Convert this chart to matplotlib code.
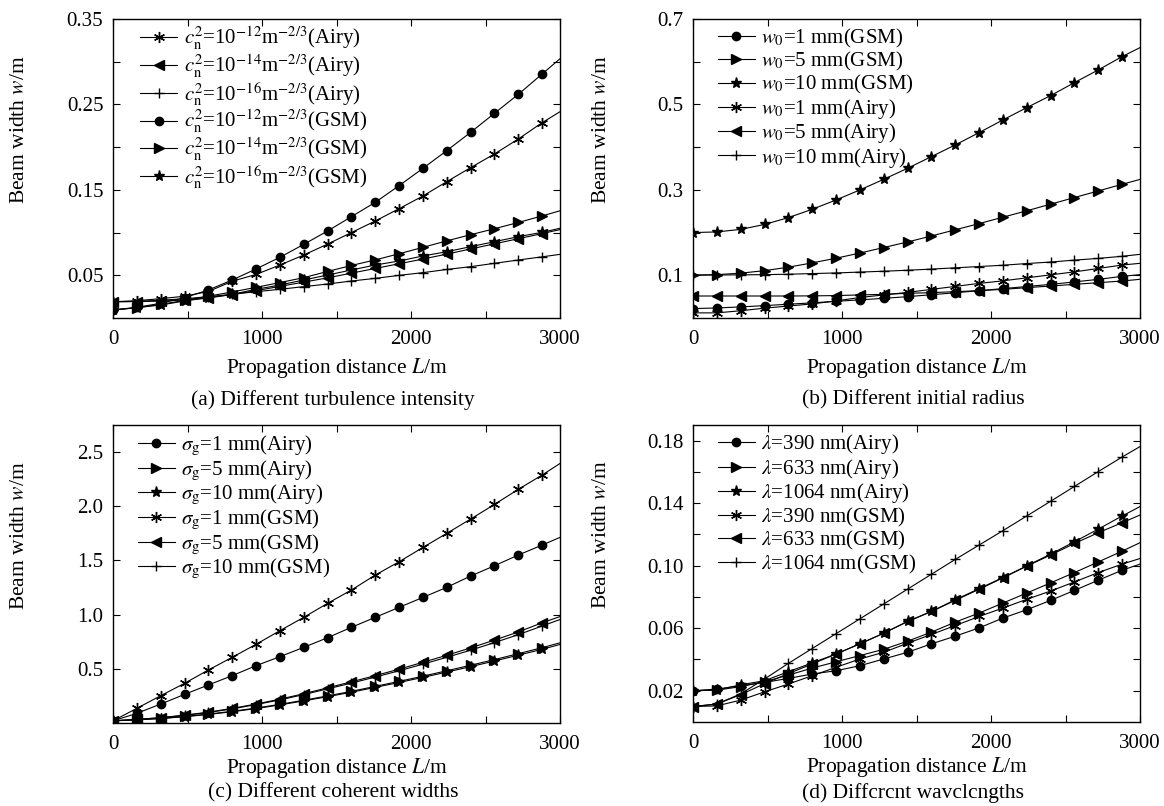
import matplotlib
matplotlib.use('Agg')
import matplotlib.pyplot as plt

plt.rcParams['font.family'] = ['Liberation Serif', 'DejaVu Serif']
plt.rcParams['mathtext.fontset'] = 'stix'

# ---------------- data ----------------
L = [0, 160, 320, 480, 640, 800, 960, 1120, 1280, 1440, 1600, 1760, 1920,
     2080, 2240, 2400, 2560, 2720, 2880, 3000]

# (a) different turbulence intensity
a_airy_12 = [0.019, 0.0203, 0.0226, 0.0255, 0.031, 0.043, 0.051, 0.062, 0.0737, 0.0865,
             0.1000, 0.1135, 0.128, 0.1428, 0.1596, 0.176, 0.192, 0.2095, 0.2286, 0.2415]
a_airy_14 = [0.019, 0.0192, 0.0198, 0.021, 0.0235, 0.0275, 0.032, 0.037, 0.042, 0.047,
             0.0525, 0.058, 0.0635, 0.069, 0.0748, 0.0808, 0.0868, 0.0928, 0.0988, 0.1035]
a_airy_16 = [0.019, 0.0195, 0.0208, 0.0225, 0.025, 0.0277, 0.0308, 0.0336, 0.0367, 0.0398,
             0.0433, 0.0464, 0.0499, 0.0531, 0.0568, 0.0601, 0.064, 0.0679, 0.0716, 0.0745]
a_gsm_12 = [0.0094, 0.0125, 0.0172, 0.0238, 0.0328, 0.0445, 0.0574, 0.071, 0.0862, 0.1018,
            0.1186, 0.1354, 0.1549, 0.1752, 0.1959, 0.2173, 0.2396, 0.2618, 0.2856, 0.3035]
a_gsm_14 = [0.0094, 0.012, 0.016, 0.0205, 0.0255, 0.0305, 0.0359, 0.0415, 0.0472, 0.0545,
            0.0615, 0.068, 0.0752, 0.0827, 0.0903, 0.0975, 0.1045, 0.1118, 0.1195, 0.1255]
a_gsm_16 = [0.0094, 0.0121, 0.0152, 0.0199, 0.0238, 0.0277, 0.0336, 0.0386, 0.0445, 0.0503,
            0.0562, 0.062, 0.0667, 0.0726, 0.0776, 0.0835, 0.0893, 0.0952, 0.1003, 0.105]

# (b) different initial radius
b_gsm_1 = [0.022, 0.0235, 0.026, 0.029, 0.0322, 0.0355, 0.039, 0.0425, 0.046, 0.05,
           0.0545, 0.059, 0.064, 0.0688, 0.0737, 0.0787, 0.0845, 0.0905, 0.0975, 0.1015]
b_gsm_5 = [0.100, 0.1015, 0.105, 0.1108, 0.119, 0.129, 0.14, 0.152, 0.165, 0.178,
           0.192, 0.2065, 0.221, 0.236, 0.251, 0.2665, 0.282, 0.2975, 0.313, 0.3245]
b_gsm_10 = [0.2, 0.2015, 0.2075, 0.219, 0.235, 0.2545, 0.2763, 0.2998, 0.3247, 0.3505,
            0.3778, 0.4052, 0.434, 0.4637, 0.4926, 0.5207, 0.5511, 0.5808, 0.612, 0.633]
b_airy_1 = [0.012, 0.012, 0.017, 0.023, 0.028, 0.033, 0.040, 0.048, 0.054, 0.060,
            0.067, 0.074, 0.081, 0.087, 0.094, 0.101, 0.108, 0.116, 0.124, 0.128]
b_airy_5 = [0.0515, 0.0515, 0.0515, 0.0515, 0.0515, 0.0518, 0.0525, 0.054, 0.0554, 0.0578,
            0.0593, 0.0617, 0.064, 0.0671, 0.071, 0.0749, 0.0788, 0.0827, 0.0866, 0.0906]
b_airy_10 = [0.1007, 0.1007, 0.101, 0.1015, 0.1025, 0.104, 0.1055, 0.1075, 0.1095, 0.1118,
             0.1145, 0.1175, 0.1205, 0.1235, 0.1275, 0.131, 0.1355, 0.1395, 0.1445, 0.149]

# (c) different coherent widths
c_airy_1 = [0.02, 0.089, 0.175, 0.264, 0.351, 0.437, 0.529, 0.612, 0.698, 0.787,
            0.883, 0.975, 1.067, 1.159, 1.252, 1.356, 1.451, 1.55, 1.642, 1.713]
c_airy_5 = [0.02, 0.03, 0.042, 0.06, 0.082, 0.108, 0.138, 0.172, 0.21, 0.25,
            0.292, 0.338, 0.384, 0.432, 0.482, 0.533, 0.585, 0.64, 0.695, 0.74]
c_airy_10 = [0.02, 0.029, 0.041, 0.058, 0.079, 0.104, 0.133, 0.167, 0.204, 0.243,
             0.284, 0.329, 0.374, 0.421, 0.47, 0.52, 0.572, 0.626, 0.68, 0.725]
c_gsm_1 = [0.02, 0.135, 0.252, 0.366, 0.489, 0.606, 0.726, 0.852, 0.975, 1.104,
           1.227, 1.365, 1.488, 1.62, 1.75, 1.882, 2.017, 2.156, 2.288, 2.395]
c_gsm_5 = [0.02, 0.033, 0.05, 0.072, 0.1, 0.135, 0.175, 0.22, 0.27, 0.325,
           0.38, 0.437, 0.497, 0.56, 0.625, 0.693, 0.765, 0.84, 0.925, 0.982]
c_gsm_10 = [0.02, 0.032, 0.048, 0.07, 0.097, 0.13, 0.17, 0.213, 0.262, 0.315,
            0.368, 0.424, 0.482, 0.543, 0.606, 0.672, 0.742, 0.815, 0.895, 0.955]

# (d) different wavelengths
d_airy_390 = [0.02, 0.0211, 0.0232, 0.0253, 0.0279, 0.0307, 0.0328, 0.036, 0.0403, 0.0446,
              0.05, 0.0549, 0.0602, 0.0665, 0.0718, 0.0778, 0.0842, 0.0907, 0.0971, 0.101]
d_airy_633 = [0.02, 0.0204, 0.0226, 0.0258, 0.03, 0.0345, 0.0385, 0.0425, 0.0465, 0.0517,
              0.0575, 0.0639, 0.0697, 0.0761, 0.0825, 0.089, 0.0956, 0.1024, 0.1093, 0.1147]
d_airy_1064 = [0.02, 0.0204, 0.0238, 0.0264, 0.0322, 0.0378, 0.0435, 0.05, 0.0568, 0.0643,
               0.0707, 0.0782, 0.0853, 0.0924, 0.0999, 0.1074, 0.1153, 0.1234, 0.1318, 0.1378]
d_gsm_390 = [0.0099, 0.0103, 0.014, 0.0193, 0.0243, 0.0296, 0.035, 0.0403, 0.0446, 0.0504,
             0.056, 0.0617, 0.0675, 0.0729, 0.0785, 0.0838, 0.0896, 0.0956, 0.101, 0.1046]
d_gsm_633 = [0.0099, 0.0115, 0.0175, 0.0245, 0.031, 0.0371, 0.0435, 0.05, 0.0568, 0.0643,
             0.0707, 0.0778, 0.0849, 0.0922, 0.0997, 0.1068, 0.1142, 0.1211, 0.1275, 0.1324]
d_gsm_1064 = [0.0099, 0.0115, 0.018, 0.0275, 0.0375, 0.047, 0.0565, 0.066, 0.0755, 0.085,
              0.0945, 0.104, 0.1132, 0.1224, 0.1318, 0.1412, 0.1507, 0.1602, 0.1695, 0.1762]

x_ticks = [0, 500, 1000, 1500, 2000, 2500, 3000]
x_ticklabels = ['0', '', '1000', '', '2000', '', '3000']

a_labels = [r'$c_{\mathrm{n}}^{2}$=10$^{-12}$m$^{-2/3}$(Airy)',
            r'$c_{\mathrm{n}}^{2}$=10$^{-14}$m$^{-2/3}$(Airy)',
            r'$c_{\mathrm{n}}^{2}$=10$^{-16}$m$^{-2/3}$(Airy)',
            r'$c_{\mathrm{n}}^{2}$=10$^{-12}$m$^{-2/3}$(GSM)',
            r'$c_{\mathrm{n}}^{2}$=10$^{-14}$m$^{-2/3}$(GSM)',
            r'$c_{\mathrm{n}}^{2}$=10$^{-16}$m$^{-2/3}$(GSM)']
b_labels = [r'$w_0$=1 mm(GSM)', r'$w_0$=5 mm(GSM)', r'$w_0$=10 mm(GSM)',
            r'$w_0$=1 mm(Airy)', r'$w_0$=5 mm(Airy)', r'$w_0$=10 mm(Airy)']
c_labels = [r'$\sigma_{\mathrm{g}}$=1 mm(Airy)', r'$\sigma_{\mathrm{g}}$=5 mm(Airy)',
            r'$\sigma_{\mathrm{g}}$=10 mm(Airy)', r'$\sigma_{\mathrm{g}}$=1 mm(GSM)',
            r'$\sigma_{\mathrm{g}}$=5 mm(GSM)', r'$\sigma_{\mathrm{g}}$=10 mm(GSM)']
d_labels = [r'$\lambda$=390 nm(Airy)', r'$\lambda$=633 nm(Airy)', r'$\lambda$=1064 nm(Airy)',
            r'$\lambda$=390 nm(GSM)', r'$\lambda$=633 nm(GSM)', r'$\lambda$=1064 nm(GSM)']

captions = ['(a) Different turbulence intensity', '(b) Different initial radius',
            '(c) Different coherent widths', '(d) Diffcrcnt wavclcngths']

ASTER = (6, 2, 0)

# ---------------- figure ----------------
W, H = 1164, 806
fig = plt.figure(figsize=(W / 100, H / 100), dpi=100)


def add_ax(l, t, r, b):
    return fig.add_axes([l / W, 1 - b / H, (r - l) / W, (b - t) / H])


FS = 15.5
LFS = 15
TFS = 15


def style(ax, ylim, yticks, yticklabels, ylab_x, xlab_y):
    ax.set_xlim(0, 3000)
    ax.set_ylim(*ylim)
    ax.set_xticks(x_ticks)
    ax.set_xticklabels(x_ticklabels)
    ax.set_yticks(yticks)
    ax.set_yticklabels(yticklabels)
    ax.tick_params(direction='in', top=True, right=True, length=5, width=0.8,
                   labelsize=TFS)
    ax.tick_params(axis='x', pad=8.5)
    ax.tick_params(axis='y', pad=7)
    for s in ax.spines.values():
        s.set_linewidth(1.0)
    ax.set_xlabel(r'Propagation distance $L$/m', fontsize=FS)
    ax.xaxis.label.set_va('center')
    ax.xaxis.set_label_coords(0.5, xlab_y)
    ax.set_ylabel(r'Beam width $w$/m', fontsize=FS)
    ax.yaxis.label.set_va('center')
    ax.yaxis.set_label_coords(ylab_x, 0.63)


def draw(ax, series, markers, sizes, labels, anchor):
    for ys, m, ms, lab in zip(series, markers, sizes, labels):
        ax.plot(L, ys, color='black', lw=0.8, marker=m, ms=ms, mew=1.0,
                markevery=list(range(len(L) - 1)), label=lab)
    ax.legend(loc='upper left', bbox_to_anchor=anchor, frameon=False,
              fontsize=LFS, handlelength=1.8, handletextpad=0.3, labelspacing=0.02,
              borderpad=0, borderaxespad=0)


axa = add_ax(113, 19, 560, 318)
draw(axa, [a_airy_12, a_airy_14, a_airy_16, a_gsm_12, a_gsm_14, a_gsm_16],
     [ASTER, '<', '+', 'o', '>', '*'], [8, 7, 7, 6, 7, 8], a_labels, (0.06, 0.98))
style(axa, (0, 0.35), [0.05, 0.10, 0.15, 0.20, 0.25, 0.30, 0.35],
      ['0.05', '', '0.15', '', '0.25', '', '0.35'], -93 / 447, -50 / 299)

axb = add_ax(693, 19, 1140, 318)
draw(axb, [b_gsm_1, b_gsm_5, b_gsm_10, b_airy_1, b_airy_5, b_airy_10],
     ['o', '>', '*', ASTER, '<', '+'], [6, 7, 8, 8, 7, 7], b_labels, (0.055, 0.975))
style(axb, (0, 0.7), [0.1, 0.2, 0.3, 0.4, 0.5, 0.6, 0.7],
      ['0.1', '', '0.3', '', '0.5', '', '0.7'], -91 / 447, -50 / 299)

axc = add_ax(113, 425, 560, 723)
draw(axc, [c_airy_1, c_airy_5, c_airy_10, c_gsm_1, c_gsm_5, c_gsm_10],
     ['o', '>', '*', ASTER, '<', '+'], [6, 7, 8, 8, 7, 7], c_labels, (0.055, 0.97))
style(axc, (0, 2.75), [0.5, 1.0, 1.5, 2.0, 2.5],
      ['0.5', '1.0', '1.5', '2.0', '2.5'], -93 / 447, -45 / 298)

axd = add_ax(693, 425, 1140, 722)
draw(axd, [d_airy_390, d_airy_633, d_airy_1064, d_gsm_390, d_gsm_633, d_gsm_1064],
     ['o', '>', '*', ASTER, '<', '+'], [6, 7, 8, 8, 7, 7], d_labels, (0.055, 0.975))
style(axd, (0, 0.19), [0.02, 0.04, 0.06, 0.08, 0.10, 0.12, 0.14, 0.16, 0.18],
      ['0.02', '', '0.06', '', '0.10', '', '0.14', '', '0.18'], -91 / 447, -45 / 297)

for (cx, cy), text in zip([(333, 400), (913, 400), (333, 793), (913, 793)], captions):
    fig.text(cx / W, 1 - cy / H, text, ha='center', va='center', fontsize=FS)

fig.savefig('out.png', dpi=100)
